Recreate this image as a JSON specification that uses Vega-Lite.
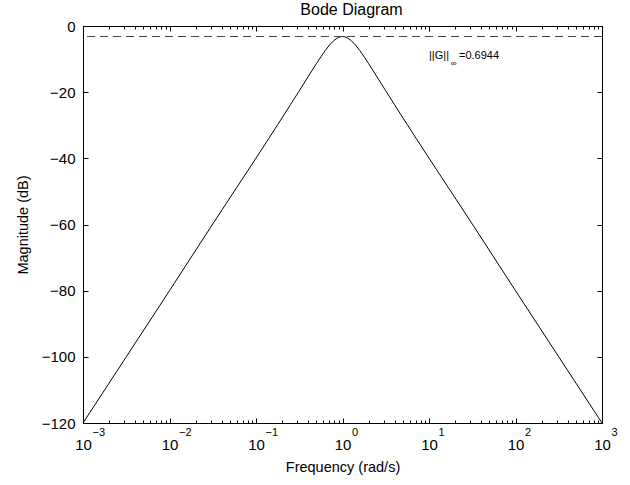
{
  "$schema": "https://vega.github.io/schema/vega-lite/v6.json",
  "width": 519,
  "height": 397,
  "autosize": {"type": "none"},
  "padding": {"left": 83, "top": 26, "right": 28, "bottom": 62},
  "background": "white",
  "title": {"text": "Bode Diagram", "fontSize": 16, "fontWeight": "normal", "anchor": "middle", "frame": "group", "baseline": "bottom", "offset": -15, "dx": 9, "color": "black", "font": "Liberation Sans"},
  "datasets": {
    "curve": [
      {"w": 0.001, "db": -120.0},
      {"w": 0.0031623, "db": -100.0},
      {"w": 0.01, "db": -80.0},
      {"w": 0.031623, "db": -59.84},
      {"w": 0.1, "db": -39.95},
      {"w": 0.14125, "db": -33.91},
      {"w": 0.17783, "db": -29.85},
      {"w": 0.19953, "db": -27.82},
      {"w": 0.25119, "db": -23.72},
      {"w": 0.31623, "db": -19.60},
      {"w": 0.35481, "db": -17.51},
      {"w": 0.39811, "db": -15.43},
      {"w": 0.44668, "db": -13.35},
      {"w": 0.50119, "db": -11.30},
      {"w": 0.56234, "db": -9.30},
      {"w": 0.63096, "db": -7.42},
      {"w": 0.70795, "db": -5.74},
      {"w": 0.79433, "db": -4.38},
      {"w": 0.89125, "db": -3.48},
      {"w": 0.95499, "db": -3.22},
      {"w": 1.0, "db": -3.17},
      {"w": 1.04713, "db": -3.22},
      {"w": 1.12202, "db": -3.48},
      {"w": 1.25893, "db": -4.38},
      {"w": 1.41254, "db": -5.74},
      {"w": 1.58489, "db": -7.42},
      {"w": 1.77828, "db": -9.30},
      {"w": 1.99526, "db": -11.30},
      {"w": 2.23872, "db": -13.35},
      {"w": 2.51189, "db": -15.43},
      {"w": 2.81838, "db": -17.51},
      {"w": 3.16228, "db": -19.60},
      {"w": 3.98107, "db": -23.72},
      {"w": 5.01187, "db": -27.82},
      {"w": 5.62341, "db": -29.85},
      {"w": 7.07946, "db": -33.91},
      {"w": 10.0, "db": -39.95},
      {"w": 31.6228, "db": -59.84},
      {"w": 100.0, "db": -80.0},
      {"w": 316.228, "db": -100.0},
      {"w": 1000.0, "db": -120.0}
    ],
    "hinf": [{"db": -3.17}],
    "note": [
      {"w": 10.0, "db": -9.07, "label": "||G||"},
      {"w": 22.2, "db": -9.07, "label": "=0.6944"}
    ],
    "sub": [{"w": 19.3, "db": -11.6, "label": "∞"}]
  },
  "layer": [
    {
      "data": {"name": "curve"},
      "mark": {"type": "line", "color": "black", "strokeWidth": 1, "interpolate": "linear"},
      "encoding": {
        "x": {"field": "w", "type": "quantitative", "scale": {"type": "log", "domain": [0.001, 1000], "nice": false},
          "axis": {"orient": "bottom", "values": [0.001, 0.01, 0.1, 1, 10, 100, 1000], "labelExpr": "'10'", "ticks": false, "labelFontSize": 15, "labelPadding": 14, "labelOffset": 0, "labelBaseline": "top", "title": "Frequency (rad/s)", "titleFontSize": 14.5, "titlePadding": 8}},
        "y": {"field": "db", "type": "quantitative", "scale": {"domain": [-120, 0], "nice": false, "zero": false},
          "axis": {"orient": "left", "values": [-120, -100, -80, -60, -40, -20, 0], "ticks": false, "labelFontSize": 15, "labelPadding": 8, "title": "Magnitude (dB)", "titleFontSize": 14.5, "titlePadding": 11}}
      }
    },
    {
      "data": {"name": "hinf"},
      "mark": {"type": "rule", "color": "#444444", "strokeWidth": 1, "strokeDash": [8, 5]},
      "encoding": {
        "y": {"field": "db", "type": "quantitative", "scale": {"domain": [-120, 0], "nice": false, "zero": false},
          "axis": {"orient": "right", "values": [-120, -100, -80, -60, -40, -20, 0], "labels": false, "tickSize": -5, "title": null}}
      }
    },
    {
      "data": {"name": "curve"},
      "mark": {"type": "point", "opacity": 0},
      "encoding": {
        "x": {"field": "w", "type": "quantitative", "scale": {"type": "log", "domain": [0.001, 1000], "nice": false},
          "axis": {"orient": "top", "values": [0.001, 0.01, 0.1, 1, 10, 100, 1000], "labels": false, "tickSize": -5, "title": null}},
        "y": {"field": "db", "type": "quantitative", "scale": {"domain": [-120, 0], "nice": false, "zero": false},
          "axis": {"orient": "left", "values": [-120, -100, -80, -60, -40, -20, 0], "labels": false, "tickSize": -5, "title": null}}
      }
    },
    {
      "data": {"name": "curve"},
      "mark": {"type": "point", "opacity": 0},
      "encoding": {
        "x": {"field": "w", "type": "quantitative", "scale": {"type": "log", "domain": [0.001, 1000], "nice": false},
          "axis": {"orient": "bottom", "values": [0.001, 0.01, 0.1, 1, 10, 100, 1000], "labels": false, "tickSize": -5, "title": null}},
        "y": {"field": "db", "type": "quantitative", "axis": null}
      }
    },
    {
      "data": {"name": "curve"},
      "mark": {"type": "point", "opacity": 0},
      "encoding": {
        "x": {"field": "w", "type": "quantitative", "scale": {"type": "log", "domain": [0.001, 1000], "nice": false},
          "axis": {"orient": "bottom", "values": [0.002, 0.003, 0.004, 0.005, 0.006, 0.007, 0.008, 0.009, 0.02, 0.03, 0.04, 0.05, 0.06, 0.07, 0.08, 0.09, 0.2, 0.3, 0.4, 0.5, 0.6, 0.7, 0.8, 0.9, 2, 3, 4, 5, 6, 7, 8, 9, 20, 30, 40, 50, 60, 70, 80, 90, 200, 300, 400, 500, 600, 700, 800, 900], "labels": false, "tickSize": -3, "title": null}},
        "y": {"field": "db", "type": "quantitative", "axis": null}
      }
    },
    {
      "data": {"name": "curve"},
      "mark": {"type": "point", "opacity": 0},
      "encoding": {
        "x": {"field": "w", "type": "quantitative", "scale": {"type": "log", "domain": [0.001, 1000], "nice": false},
          "axis": {"orient": "top", "values": [0.002, 0.003, 0.004, 0.005, 0.006, 0.007, 0.008, 0.009, 0.02, 0.03, 0.04, 0.05, 0.06, 0.07, 0.08, 0.09, 0.2, 0.3, 0.4, 0.5, 0.6, 0.7, 0.8, 0.9, 2, 3, 4, 5, 6, 7, 8, 9, 20, 30, 40, 50, 60, 70, 80, 90, 200, 300, 400, 500, 600, 700, 800, 900], "labels": false, "tickSize": -3, "title": null}},
        "y": {"field": "db", "type": "quantitative", "axis": null}
      }
    },
    {
      "data": {"name": "curve"},
      "mark": {"type": "point", "opacity": 0},
      "encoding": {
        "x": {"field": "w", "type": "quantitative", "scale": {"type": "log", "domain": [0.001, 1000], "nice": false},
          "axis": {"orient": "bottom", "values": [0.001, 0.01, 0.1, 1, 10, 100, 1000], "labelExpr": "format(round(log(datum.value) / LN10), 'd')", "ticks": false, "labelFontSize": 11, "labelAlign": "left", "labelBaseline": "top", "labelOffset": 9, "labelPadding": 3, "title": null}},
        "y": {"field": "db", "type": "quantitative", "axis": null}
      }
    },
    {
      "data": {"name": "note"},
      "mark": {"type": "text", "align": "left", "baseline": "middle", "fontSize": 11, "color": "black", "font": "Liberation Sans"},
      "encoding": {
        "x": {"field": "w", "type": "quantitative", "scale": {"type": "log", "domain": [0.001, 1000], "nice": false}, "axis": null},
        "y": {"field": "db", "type": "quantitative", "axis": null},
        "text": {"field": "label"}
      }
    },
    {
      "data": {"name": "sub"},
      "mark": {"type": "text", "align": "center", "baseline": "middle", "fontSize": 8, "color": "black", "font": "Liberation Sans"},
      "encoding": {
        "x": {"field": "w", "type": "quantitative", "scale": {"type": "log", "domain": [0.001, 1000], "nice": false}, "axis": null},
        "y": {"field": "db", "type": "quantitative", "axis": null},
        "text": {"field": "label"}
      }
    }
  ],
  "resolve": {"axis": {"x": "independent", "y": "independent"}},
  "config": {
    "font": "Liberation Sans",
    "view": {"stroke": "black", "strokeWidth": 1},
    "axis": {"grid": false, "domain": false, "labelColor": "black", "titleColor": "black", "tickColor": "black", "tickWidth": 1, "labelFont": "Liberation Sans", "titleFont": "Liberation Sans", "titleFontSize": 14, "titleFontWeight": "normal", "labelFlush": false, "labelOverlap": false, "labelBound": false}
  }
}
